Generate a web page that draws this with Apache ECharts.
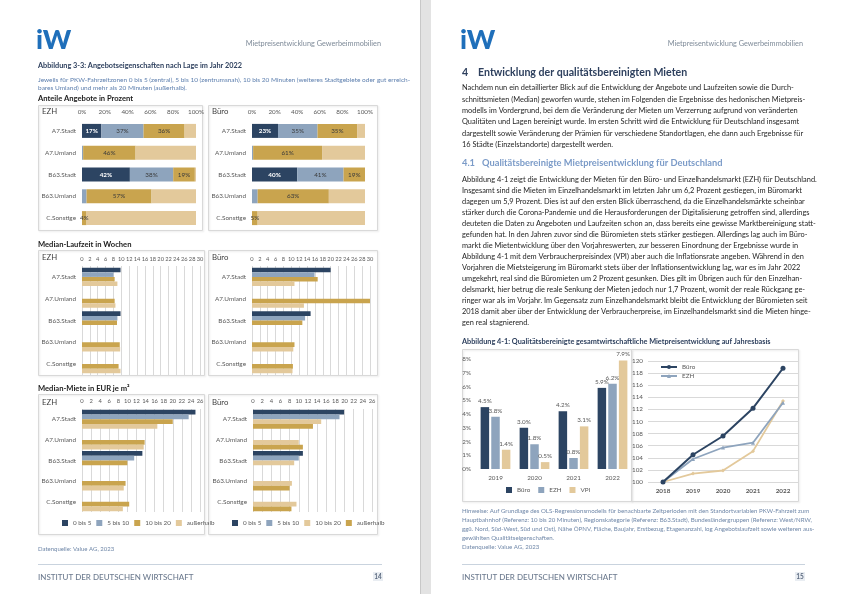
<!DOCTYPE html>
<html><head><meta charset="utf-8">
<script src="https://cdn.jsdelivr.net/npm/echarts@6/dist/echarts.min.js"></script>
<style>html,body{margin:0;padding:0;background:#fff}#c{width:843px;height:594px}</style>
</head><body><div id="c"></div>
<script>
// ---------- DATA ----------
const locations = ['A7.Stadt','A7.Umland','B63.Stadt','B63.Umland','C.Sonstige'];
const zoneNames = ['0 bis 5','5 bis 10','10 bis 20','außerhalb'];
// Anteile Angebote in Prozent (rows = zones, cols = locations)
const shareEZH   = [[17,0,42,0,0],[37,1,38,4,0],[36,46,19,57,4],[10,53,1,39,96]];
const shareBuero = [[23,0,40,0,0],[35,1,41,5,0],[35,61,19,63,5],[7,38,0,32,95]];
// Median-Laufzeit in Wochen
const weeksEZH   = [[9.8,null,9.8,null,null],[8.0,null,9.0,null,null],[8.3,8.3,8.9,9.6,9.3],[9.0,8.5,null,9.7,9.8]];
const weeksBuero = [[20.0,null,14.9,null,null],[15.9,null,13.5,null,null],[16.7,30,12.8,10.8,10.4],[10.8,13.2,null,10.5,10.3]];
// Median-Miete in EUR je m² (Büro: order 0-5, 5-10, 10-20, außerhalb)
const rentEZH    = [[25.0,null,13.3,null,null],[23.5,null,11.5,null,null],[20.0,13.8,10.0,9.6,10.4],[16.6,13.6,null,9.2,9.0]];
const rentBuero  = [[19.9,null,10.9,null,null],[18.9,null,10.0,null,null],[14.9,10.0,9.0,8.5,9.5],[13.1,10.9,null,8.0,8.4]];
// Abbildung 4-1
const years = ['2019','2020','2021','2022'];
const growthBuero = [4.5,3.0,4.2,5.9];
const growthEZH   = [3.8,1.8,0.8,6.2];
const growthVPI   = [1.4,0.5,3.1,7.9];
const indexYears = ['2018','2019','2020','2021','2022'];
const indexBuero = [100,104.5,107.6,112.2,118.8];
const indexEZH   = [100,103.8,105.7,106.5,113.1];
const indexVPI   = [100,101.4,101.9,105.1,113.4];

// ---------- TEXT ----------
const headerText = 'Mietpreisentwicklung Gewerbeimmobilien';
const figTitle33 = 'Abbildung 3-3: Angebotseigenschaften nach Lage im Jahr 2022';
const figSub33 = ['Jeweils für PKW-Fahrzeitzonen 0 bis 5 (zentral), 5 bis 10 (zentrumsnah), 10 bis 20 Minuten (weiteres Stadtgebiete oder gut erreich-',
  'bares Umland) und mehr als 20 Minuten (außerhalb).'];
const para1 = ['Nachdem nun ein detaillierter Blick auf die Entwicklung der Angebote und Laufzeiten sowie die Durch-',
'schnittsmieten (Median) geworfen wurde, stehen im Folgenden die Ergebnisse des hedonischen Mietpreis-',
'modells im Vordergrund, bei dem die Veränderung der Mieten um Verzerrung aufgrund von veränderten',
'Qualitäten und Lagen bereinigt wurde. Im ersten Schritt wird die Entwicklung für Deutschland insgesamt',
'dargestellt sowie Veränderung der Prämien für verschiedene Standortlagen, ehe dann auch Ergebnisse für',
'16 Städte (Einzelstandorte) dargestellt werden.'];
const para2 = ['Abbildung 4-1 zeigt die Entwicklung der Mieten für den Büro- und Einzelhandelsmarkt (EZH) für Deutschland.',
'Insgesamt sind die Mieten im Einzelhandelsmarkt im letzten Jahr um 6,2 Prozent gestiegen, im Büromarkt',
'dagegen um 5,9 Prozent. Dies ist auf den ersten Blick überraschend, da die Einzelhandelsmärkte scheinbar',
'stärker durch die Corona-Pandemie und die Herausforderungen der Digitalisierung getroffen sind, allerdings',
'deuteten die Daten zu Angeboten und Laufzeiten schon an, dass bereits eine gewisse Marktbereinigung statt-',
'gefunden hat. In den Jahren zuvor sind die Büromieten stets stärker gestiegen. Allerdings lag auch im Büro-',
'markt die Mietentwicklung über den Vorjahreswerten, zur besseren Einordnung der Ergebnisse wurde in',
'Abbildung 4-1 mit dem Verbraucherpreisindex (VPI) aber auch die Inflationsrate angeben. Während in den',
'Vorjahren die Mietsteigerung im Büromarkt stets über der Inflationsentwicklung lag, war es im Jahr 2022',
'umgekehrt, real sind die Büromieten um 2 Prozent gesunken. Dies gilt im Übrigen auch für den Einzelhan-',
'delsmarkt, hier betrug die reale Senkung der Mieten jedoch nur 1,7 Prozent, womit der reale Rückgang ge-',
'ringer war als im Vorjahr. Im Gegensatz zum Einzelhandelsmarkt bleibt die Entwicklung der Büromieten seit',
'2018 damit aber über der Entwicklung der Verbraucherpreise, im Einzelhandelsmarkt sind die Mieten hinge-',
'gen real stagnierend.'];
const notes41 = ['Hinweise: Auf Grundlage des OLS-Regressionsmodells für benachbarte Zeitperioden mit den Standortvariablen PKW-Fahrzeit zum',
'Hauptbahnhof (Referenz: 10 bis 20 Minuten), Regionskategorie (Referenz: B63.Stadt), Bundesländergruppen (Referenz: West/NRW,',
'ggü. Nord, Süd-West, Süd und Ost), Nähe ÖPNV, Fläche, Baujahr, Erstbezug, Etagenanzahl, log Angebotslaufzeit sowie weiteren aus-',
'gewählten Qualitätseigenschaften.',
'Datenquelle: Value AG, 2023'];

// ---------- STYLE ----------
const F = 'Lato, "Noto Sans", sans-serif';
const NAVY = '#2c4462', LBLUE = '#8ea4bd', GOLD = '#c9a44e', TAN = '#e3c99b';
const zoneColors = [NAVY, LBLUE, GOLD, TAN];
const zoneColorsBueroRent = [NAVY, LBLUE, TAN, GOLD];
const AX = '#595959', GRID = '#d9d9d9';

const chart = echarts.init(document.getElementById('c'));

function T(x, y, text, size, fill, weight, align) {
  return {type:'text', x:x, y:y, z:20, silent:true,
    style:{text:text, fontSize:size, fontFamily:F, fontWeight:weight||'normal', fill:fill||'#262626',
      align:align||'left', verticalAlign:'middle'}};
}
function R(x, y, w, h, fill, stroke, shadow) {
  const s = {fill:fill, stroke:stroke||null, lineWidth:1};
  if (shadow) { s.shadowBlur = 2; s.shadowOffsetX = 1; s.shadowOffsetY = 1; s.shadowColor = 'rgba(0,0,0,0.10)'; }
  return {type:'rect', z:0, silent:true, shape:{x:x, y:y, width:w, height:h}, style:s};
}
function L(x1, y1, x2, y2, c) {
  return {type:'line', z:0, silent:true, shape:{x1:x1,y1:y1,x2:x2,y2:y2}, style:{stroke:c, lineWidth:1}};
}
function box(x, y, w, h) { return R(x, y, w, h, null, '#d9d9d9', true); }

const graphics = [
  R(420,0,11,594,'#e3e3e3'),
  L(420.5,0,420.5,594,'#c8c8c8'),
  // left page
  T(36, 40, 'iW', 27, '#1f6fba', 900),
  T(381, 44, headerText, 7.3, '#7f8b99', 'normal', 'right'),
  T(38, 66, figTitle33, 7.3, '#2e405e', 'bold'),
  T(38, 80, figSub33[0], 6.5, '#5d7fae'),
  T(38, 88, figSub33[1], 6.5, '#5d7fae'),
  T(38, 99, 'Anteile Angebote in Prozent', 7.6, '#1a1a1a', 'bold'),
  box(38.5,105.5,164,125), box(208.5,105.5,169,125),
  T(42, 111, 'EZH', 7.8, '#404040'), T(212, 111, 'Büro', 7.8, '#404040'),
  T(38, 245, 'Median-Laufzeit in Wochen', 7.6, '#1a1a1a', 'bold'),
  box(38.5,250.5,166,125), box(208.5,250.5,169,125),
  T(42, 257, 'EZH', 7.8, '#404040'), T(212, 257, 'Büro', 7.8, '#404040'),
  T(38, 389, 'Median-Miete in EUR je m²', 7.6, '#1a1a1a', 'bold'),
  box(38.5,394.5,166,140), box(208.5,394.5,169,140),
  T(42, 402, 'EZH', 7.8, '#404040'), T(212, 402, 'Büro', 7.8, '#404040'),
  T(38, 549, 'Datenquelle: Value AG, 2023', 6, '#6f87a8'),
  L(38, 564.5, 382, 564.5, '#c9d3de'),
  T(38, 577, 'INSTITUT DER DEUTSCHEN WIRTSCHAFT', 8, '#6d7b8f', 500),
  R(373, 572, 10, 9, '#e9edf2'),
  T(378, 577, '14', 6.5, '#5d6b80', 'bold', 'center'),
  // right page
  T(460, 40, 'iW', 27, '#1f6fba', 900),
  T(803, 44, headerText, 7.3, '#7f8b99', 'normal', 'right'),
  T(462, 73, '4', 10.6, '#2e405e', 'bold'),
  T(478, 73, 'Entwicklung der qualitätsbereinigten Mieten', 10.6, '#2e405e', 'bold'),
  T(462, 163, '4.1', 9.3, '#7b9bc8', 'bold'),
  T(482, 163, 'Qualitätsbereinigte Mietpreisentwicklung für Deutschland', 9.3, '#7b9bc8', 'bold'),
  T(462, 342, 'Abbildung 4-1: Qualitätsbereinigte gesamtwirtschaftliche Mietpreisentwicklung auf Jahresbasis', 7.3, '#2e405e', 'bold'),
  box(462.5,349.5,169,152), box(631.5,349.5,167,152),
  L(462, 564.5, 805, 564.5, '#c9d3de'),
  T(462, 577, 'INSTITUT DER DEUTSCHEN WIRTSCHAFT', 8, '#6d7b8f', 500),
  R(795, 572, 10, 9, '#e9edf2'),
  T(800, 577, '15', 6.5, '#5d6b80', 'bold', 'center')
];
para1.forEach((s,i) => graphics.push(T(462, 88 + i*11.3, s, 7.4, '#1f1f1f')));
para2.forEach((s,i) => graphics.push(T(462, 180 + i*11.0, s, 7.4, '#1f1f1f')));
notes41.forEach((s,i) => graphics.push(T(462, 511 + i*9, s, 6.1, '#6f87a8')));

// ---------- AXES / SERIES ----------
const grids = [
  {left:82, top:120, width:114, height:109},
  {left:252, top:120, width:113, height:109},
  {left:82, top:266, width:118, height:109},
  {left:252, top:266, width:118, height:109},
  {left:82, top:409, width:118, height:103},
  {left:253, top:409, width:119, height:103},
  {left:476, top:359, width:156, height:110},
  {left:648, top:361, width:150, height:121}
].map(g => Object.assign({containLabel:false}, g));

const lab = {fontSize:6.3, color:AX, fontFamily:F};
function catY(gi) {
  return {type:'category', gridIndex:gi, data:locations, inverse:true,
    axisLine:{show:false}, axisTick:{show:false},
    axisLabel:Object.assign({margin:6}, lab, {fontSize:6.4})};
}
function valX(gi, max, interval, fmt, split, margin, fs) {
  return {type:'value', gridIndex:gi, position:'top', min:0, max:max, interval:interval,
    axisLine:{show:false}, axisTick:{show:false},
    splitLine:{show:split, lineStyle:{color:GRID, width:1}},
    axisLabel:Object.assign({margin:margin, formatter:fmt, showMinLabel:true, showMaxLabel:true}, lab, {fontSize:fs})};
}

const xAxes = [
  valX(0,100,20,'{value}%',false,5,6.3), valX(1,100,20,'{value}%',false,5,6.3),
  valX(2,30,2,'{value}',true,4,5.7), valX(3,30,2,'{value}',true,4,5.7),
  valX(4,26,2,'{value}',true,4.5,5.8), valX(5,26,2,'{value}',true,4.5,5.8),
  {type:'category', gridIndex:6, data:years, axisLine:{show:false}, axisTick:{show:false},
    axisLabel:Object.assign({margin:6}, lab)},
  {type:'category', gridIndex:7, data:indexYears, boundaryGap:true, axisLine:{show:false}, axisTick:{show:false},
    axisLabel:Object.assign({margin:6}, lab, {fontWeight:'bold'})}
];
const yAxes = [catY(0),catY(1),catY(2),catY(3),catY(4),catY(5),
  {type:'value', gridIndex:6, min:0, max:8, interval:1, splitLine:{show:false},
    axisLine:{show:false}, axisTick:{show:false},
    axisLabel:Object.assign({margin:5, formatter:'{value}%'}, lab)},
  {type:'value', gridIndex:7, min:100, max:120, interval:2,
    splitLine:{show:true, lineStyle:{color:GRID}}, axisLine:{show:false}, axisTick:{show:false},
    axisLabel:Object.assign({margin:5}, lab)}
];

const series = [];
function shareSeries(rows, gi) {
  rows.forEach((d, k) => {
    series.push({type:'bar', name:zoneNames[k], xAxisIndex:gi, yAxisIndex:gi, stack:'s'+gi,
      data:d, barWidth:14, itemStyle:{color:zoneColors[k]},
      label:{show:k<3, position:'inside', fontSize:6.3, fontFamily:F,
        color: k===0 ? '#ffffff' : '#3a3a3a', fontWeight: k===0 ? 'bold' : 'normal',
        formatter: p => (k===2 ? p.value>0 : p.value>=10) ? p.value + '%' : ''}});
  });
}
function groupSeries(rows, gi, colors, names, gap) {
  rows.forEach((d, k) => {
    series.push({type:'bar', name:names[k], xAxisIndex:gi, yAxisIndex:gi, data:d,
      barGap:'0%', barCategoryGap:gap, itemStyle:{color:colors[k]}});
  });
}
shareSeries(shareEZH, 0);
shareSeries(shareBuero, 1);
groupSeries(weeksEZH, 2, zoneColors, zoneNames, '16%');
groupSeries(weeksBuero, 3, zoneColors, zoneNames, '16%');
groupSeries(rentEZH, 4, zoneColors, zoneNames, '8%');
groupSeries(rentBuero, 5, zoneColorsBueroRent, zoneNames.map(n => 'B:' + n), '8%');

const growthLabel = {show:true, position:'top', distance:3, fontSize:6.3, fontFamily:F, color:AX,
  formatter: p => p.value.toFixed(1) + '%'};
[['Büro', growthBuero, NAVY], ['EZH', growthEZH, LBLUE], ['VPI', growthVPI, TAN]].forEach(s => {
  series.push({type:'bar', name:s[0], xAxisIndex:6, yAxisIndex:6, data:s[1], barWidth:8.5, barGap:'25%',
    itemStyle:{color:s[2]}, label:growthLabel});
});
series.push({type:'line', name:'L:VPI', xAxisIndex:7, yAxisIndex:7, data:indexVPI, symbol:'diamond', symbolSize:4,
  lineStyle:{color:TAN, width:1.8}, itemStyle:{color:TAN}});
series.push({type:'line', name:'L:EZH', xAxisIndex:7, yAxisIndex:7, data:indexEZH, symbol:'triangle', symbolSize:4,
  lineStyle:{color:LBLUE, width:1.8}, itemStyle:{color:LBLUE}});
series.push({type:'line', name:'L:Büro', xAxisIndex:7, yAxisIndex:7, data:indexBuero, symbol:'circle', symbolSize:5,
  lineStyle:{color:NAVY, width:2}, itemStyle:{color:NAVY}});

const legTxt = {fontSize:6.3, color:AX, fontFamily:F};
const strip = n => n.replace(/^[BL]:/, '');
const legends = [
  {data:zoneNames, left:62, top:520, icon:'rect', itemWidth:6, itemHeight:6, itemGap:5, selectedMode:false,
    textStyle:legTxt, padding:0},
  {data:zoneNames.map(n => 'B:' + n), left:232, top:520, icon:'rect', itemWidth:6, itemHeight:6, itemGap:5,
    selectedMode:false, textStyle:legTxt, formatter:strip, padding:0},
  {data:['Büro','EZH','VPI'], left:506, top:487, icon:'rect', itemWidth:6, itemHeight:6, itemGap:8,
    selectedMode:false, textStyle:legTxt, padding:0},
  {data:['L:Büro','L:EZH'], left:660, top:364, orient:'vertical', itemWidth:16, itemHeight:5, itemGap:3,
    selectedMode:false, textStyle:legTxt, formatter:strip, padding:0}
];

chart.setOption({
  animation:false,
  backgroundColor:'#ffffff',
  textStyle:{fontFamily:F},
  graphic:{elements:graphics},
  grid:grids, xAxis:xAxes, yAxis:yAxes, series:series, legend:legends
});
</script></body></html>
